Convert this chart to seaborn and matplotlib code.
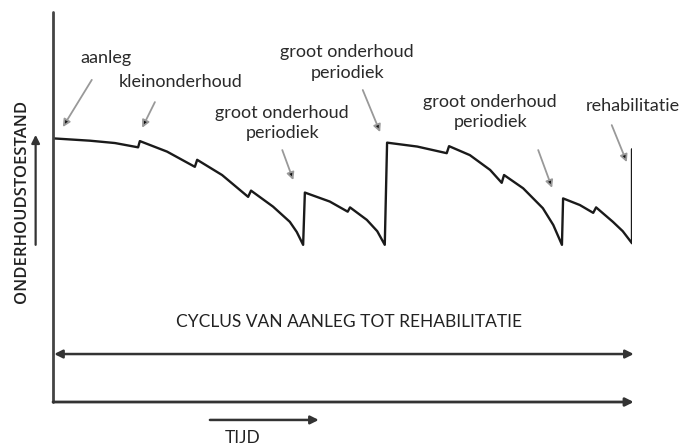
"""Schematische onderhoudscyclus: onderhoudstoestand tegen tijd."""

import matplotlib

matplotlib.use("Agg")

import matplotlib.pyplot as plt
import pandas as pd
import seaborn as sns

# curve (tijd 0-100, toestand 0-100)
tijd = [0, 6.4, 10.7, 14.7, 15.0, 19.7, 24.5, 24.9, 29.2, 33.7, 34.2, 38.0, 40.9,
        42.1, 43.2, 43.5, 47.8, 50.9, 51.3, 54.2, 56.0, 57.3, 57.7, 62.9, 68.0,
        68.4, 72.0, 75.5, 77.5, 77.9, 81.2, 84.6, 86.4, 87.9, 88.1, 91.0, 93.3,
        93.8, 96.7, 98.4, 100, 100]
toestand = [67.6, 67.0, 66.4, 65.3, 66.9, 64.2, 60.3, 62.1, 58.2, 52.6, 54.2, 50.1, 46.2,
            43.6, 40.3, 53.7, 51.4, 48.8, 49.9, 46.7, 43.8, 40.3, 66.5, 65.5, 63.8,
            65.6, 63.3, 59.5, 56.2, 58.2, 54.8, 49.7, 45.4, 40.3, 52.2, 50.5, 48.5,
            49.9, 46.2, 43.8, 40.7, 64.8]

# annotations: label, text position, arrow start, arrow end
labels = ["aanleg", "kleinonderhoud", "groot onderhoud\nperiodiek",
          "groot onderhoud\nperiodiek", "groot onderhoud\nperiodiek", "rehabilitatie"]
label_xy = [(9.2, 88.2), (22.1, 82.1), (39.6, 71.5), (50.8, 87.1), (75.5, 74.4), (100.1, 75.9)]
arrow_from = [(6.7, 82.6), (17.6, 76.9), (39.6, 64.6), (53.5, 80.0), (83.8, 64.6), (96.5, 71.0)]
arrow_to = [(1.7, 70.5), (15.4, 70.3), (41.5, 56.9), (56.5, 69.2), (86.2, 54.9), (99.1, 61.5)]

FONT = ["Lato", "DejaVu Sans"]

sns.set_theme(style="white")
plt.rcParams["font.family"] = FONT

fig = plt.figure(figsize=(6.96, 4.48), dpi=100)
ax = fig.add_axes([53 / 696, 46 / 448, 579 / 696, 390 / 448])
ax.set_xlim(0, 100)
ax.set_ylim(0, 100)
ax.axis("off")

df = pd.DataFrame({"tijd": tijd, "toestand": toestand})
sns.lineplot(data=df, x="tijd", y="toestand", sort=False, estimator=None,
             color="#1a1a1a", linewidth=1.7, ax=ax)

# axes
ax.plot([0, 0], [0, 100], color="#444444", linewidth=2.0, clip_on=False)
ax.annotate("", xy=(100.3, 0), xytext=(0, 0),
            arrowprops=dict(arrowstyle="-|>", color="#333333", lw=2.0,
                            mutation_scale=12, shrinkA=0, shrinkB=0),
            annotation_clip=False)

# cycle arrow
ax.annotate("", xy=(100.3, 12.3), xytext=(0.2, 12.3),
            arrowprops=dict(arrowstyle="<|-|>", color="#333333", lw=1.8,
                            mutation_scale=12, shrinkA=0, shrinkB=0),
            annotation_clip=False)
ax.text(51.1, 20.5, "CYCLUS VAN AANLEG TOT REHABILITATIE", ha="center", va="center",
        fontsize=12.5, color="#222222")

# time arrow
ax.annotate("", xy=(45.9, -4.6), xytext=(27.1, -4.6),
            arrowprops=dict(arrowstyle="-|>", color="#333333", lw=1.8,
                            mutation_scale=12, shrinkA=0, shrinkB=0),
            annotation_clip=False)
ax.text(32.8, -9.2, "TIJD", ha="center", va="center", fontsize=12.5, color="#222222",
        clip_on=False)

# condition label and arrow
ax.text(-5.4, 51.5, "ONDERHOUDSTOESTAND", rotation=90, ha="center", va="center",
        fontsize=12, fontweight="semibold", color="#222222", clip_on=False,
        family=["Open Sans", "DejaVu Sans"])
ax.annotate("", xy=(-3.0, 68.5), xytext=(-3.0, 40.3),
            arrowprops=dict(arrowstyle="-|>", color="#333333", lw=1.6,
                            mutation_scale=12, shrinkA=0, shrinkB=0),
            annotation_clip=False)

for lab, txy, a0, a1 in zip(labels, label_xy, arrow_from, arrow_to):
    ax.text(txy[0], txy[1], lab, ha="center", va="center", fontsize=13,
            color="#2a2a2a", linespacing=1.35, clip_on=False)
    ax.annotate("", xy=a1, xytext=a0,
                arrowprops=dict(arrowstyle="-|>", color="#999999", lw=1.3,
                                mutation_scale=11, shrinkA=0, shrinkB=0,
                                fc="#111111", ec="#999999"),
                annotation_clip=False)

fig.savefig("out.png", dpi=100, facecolor="white")
